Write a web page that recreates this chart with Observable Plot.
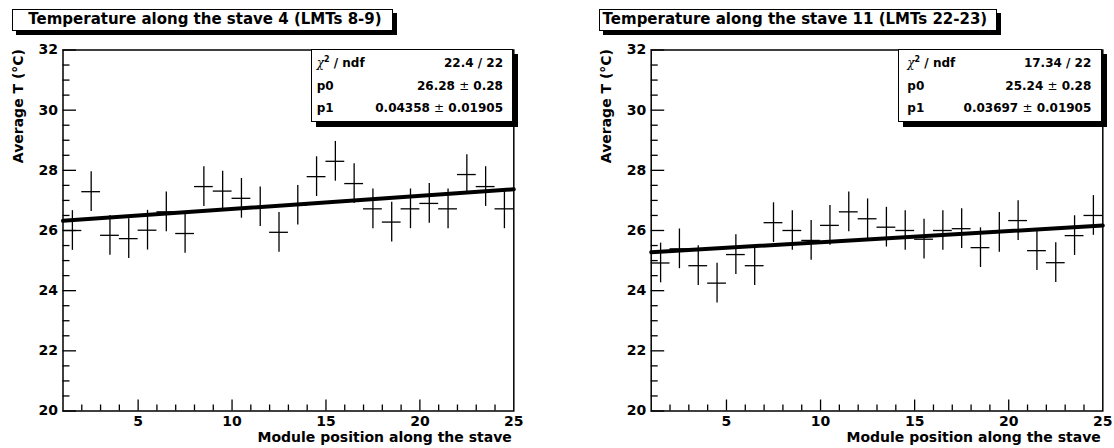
<!DOCTYPE html>
<html><head><meta charset="utf-8">
<script src="https://cdn.jsdelivr.net/npm/d3@7"></script>
<script src="https://cdn.jsdelivr.net/npm/@observablehq/plot@0.6"></script>
<style>
body{margin:0;background:#fff;}
#wrap{position:relative;width:1114px;height:448px;font-family:"DejaVu Sans",sans-serif;font-weight:bold;color:#000;overflow:hidden;background:#fff}
.panel{position:absolute;top:0}
.title{position:absolute;box-sizing:border-box;border:1px solid #000;box-shadow:4px 4px 0 #000;background:#fff;font-size:15px;white-space:nowrap;}
.stats{position:absolute;box-sizing:border-box;border:1px solid #000;box-shadow:5px 5px 0 #000;background:#fff;font-size:12px;padding-top:2px}
.row{display:flex;justify-content:space-between;height:22.5px;line-height:22.5px;white-space:nowrap}
.pm{font-weight:normal}
.chi{font-style:italic;font-weight:normal;font-family:"DejaVu Serif",serif}
sup{font-size:8px;line-height:0;vertical-align:5px}
</style>
</head><body>
<div id="wrap"></div>
<script>
// ---- data ----
const modulePos = [1.5,2.5,3.5,4.5,5.5,6.5,7.5,8.5,9.5,10.5,11.5,12.5,13.5,14.5,15.5,16.5,17.5,18.5,19.5,20.5,21.5,22.5,23.5,24.5];
const stave4Temp = [26.00,27.29,25.84,25.73,26.01,26.62,25.90,27.46,27.31,27.07,26.79,25.94,26.84,27.79,28.30,27.56,26.72,26.28,26.72,26.90,26.72,27.86,27.46,26.72];
const stave4Err  = [0.66,0.66,0.66,0.66,0.66,0.66,0.66,0.66,0.66,0.66,0.66,0.66,0.66,0.66,0.66,0.66,0.66,0.66,0.66,0.66,0.66,0.66,0.66,0.66];
const stave11Temp = [24.92,25.39,24.83,24.25,25.20,24.83,26.26,26.00,25.67,26.17,26.62,26.39,26.11,26.00,25.71,26.00,26.06,25.43,25.94,26.33,25.33,24.93,25.83,26.50];
const stave11Err  = [0.66,0.66,0.66,0.66,0.66,0.66,0.66,0.66,0.66,0.66,0.66,0.66,0.66,0.66,0.66,0.66,0.66,0.66,0.66,0.66,0.66,0.66,0.66,0.66];
const fitRange = [1, 25];
const stave4Fit = {chi2: "22.4 / 22", p0: 26.28, p0e: "0.28", p1: 0.04358, p1e: "0.01905", p0s: "26.28", p1s: "0.04358"};
const stave11Fit = {chi2: "17.34 / 22", p0: 25.24, p0e: "0.28", p1: 0.03697, p1e: "0.01905", p0s: "25.24", p1s: "0.03697"};
const titles = ["Temperature along the stave 4 (LMTs 8-9)", "Temperature along the stave 11 (LMTs 22-23)"];
const yLabelText = "Average T (°C)";
const xLabelText = "Module position along the stave";
const yTickLabels = [20,22,24,26,28,30,32];
const yMinorTicks = [20.5,21,21.5,22.5,23,23.5,24.5,25,25.5,26.5,27,27.5,28.5,29,29.5,30.5,31,31.5];
const xTickLabels = [5,10,15,20,25];
const xMajorTicks = [5,10,15,20];
const xMinorTicks = [2,3,4,6,7,8,9,11,12,13,14,16,17,18,19,21,22,23,24];

const W = 557, H = 448, MT = 49.5, MB = 37.5;

function panel(temps, errs, fitp, ml, mr) {
  const fw = W - ml - mr, fh = H - MT - MB;
  const pts = modulePos.map((x, i) => ({x, t: temps[i], e: errs[i]}));
  const fit = fitRange.map(x => ({x, t: fitp.p0 + fitp.p1 * x}));
  return Plot.plot({
    width: W, height: H,
    marginTop: MT, marginBottom: MB, marginLeft: ml, marginRight: mr,
    x: {domain: [1, 25]},
    y: {domain: [20, 32]},
    style: {fontFamily: "DejaVu Sans", fontWeight: "bold", fontSize: "14px", background: "transparent", overflow: "visible", color: "black"},
    marks: [
      Plot.tickY(yMinorTicks, {y: d => d, insetRight: fw - 7, stroke: "black", strokeWidth: 1.3}),
      Plot.tickY(yTickLabels, {y: d => d, insetRight: fw - 13.5, stroke: "black", strokeWidth: 1.3}),
      Plot.tickX(xMinorTicks, {x: d => d, insetTop: fh - 6, stroke: "black", strokeWidth: 1.3}),
      Plot.tickX(xMajorTicks, {x: d => d, insetTop: fh - 11, stroke: "black", strokeWidth: 1.3}),
      Plot.axisY(yTickLabels, {tickSize: 0, tickPadding: 5, label: null, fontSize: 14, fill: "black"}),
      Plot.axisX(xTickLabels, {tickSize: 0, tickPadding: 5, label: null, fontSize: 14, fill: "black"}),
      Plot.ruleX(pts, {x: "x", y1: d => d.t - d.e, y2: d => d.t + d.e, stroke: "black", strokeWidth: 1.3}),
      Plot.ruleY(pts, {y: "t", x1: d => d.x - 0.5, x2: d => d.x + 0.5, stroke: "black", strokeWidth: 1.3}),
      Plot.line(fit, {x: "x", y: "t", stroke: "black", strokeWidth: 4}),
      Plot.frame({stroke: "black", strokeWidth: 1.5}),
      Plot.text([yLabelText], {frameAnchor: "top-left", rotate: -90, textAnchor: "end", lineAnchor: "middle", dx: -44.5, dy: -1, fontSize: 14, fill: "black"}),
      Plot.text([xLabelText], {frameAnchor: "bottom-right", textAnchor: "end", lineAnchor: "middle", dx: -2, dy: 27, fontSize: 14, fill: "black"})
    ]
  });
}

const wrap = document.getElementById("wrap");
function place(el, left) {
  const d = document.createElement("div");
  d.className = "panel";
  d.style.left = left + "px";
  d.appendChild(el);
  wrap.appendChild(d);
}
place(panel(stave4Temp, stave4Err, stave4Fit, 62.5, 43.7), 0);
place(panel(stave11Temp, stave11Err, stave11Fit, 93.7, 11.7), 557);

function titleBox(text, left, width, padLeft) {
  const d = document.createElement("div");
  d.className = "title";
  Object.assign(d.style, {left: left + "px", top: "9.3px", width: width + "px", height: "21.4px", lineHeight: "19.4px", paddingLeft: padLeft + "px"});
  d.textContent = text;
  wrap.appendChild(d);
}
titleBox(titles[0], 12.3, 380.7, 15);
titleBox(titles[1], 599, 398, 2.6);

function statsBox(f, left, width, padL, padR) {
  const d = document.createElement("div");
  d.className = "stats";
  Object.assign(d.style, {left: left + "px", top: "49.3px", width: width + "px", height: "72.4px", paddingLeft: padL + "px", paddingRight: padR + "px"});
  d.innerHTML =
    `<div class="row"><span><span class="chi">χ</span><sup>2</sup> / ndf</span><span>${f.chi2}</span></div>` +
    `<div class="row"><span>p0</span><span>${f.p0s} <span class="pm">±</span> ${f.p0e}</span></div>` +
    `<div class="row"><span>p1</span><span>${f.p1s} <span class="pm">±</span> ${f.p1e}</span></div>`;
  wrap.appendChild(d);
}
statsBox(stave4Fit, 310.7, 202.6, 5, 9.3);
statsBox(stave11Fit, 898.3, 203.7, 8, 9.7);
</script>
</body></html>
